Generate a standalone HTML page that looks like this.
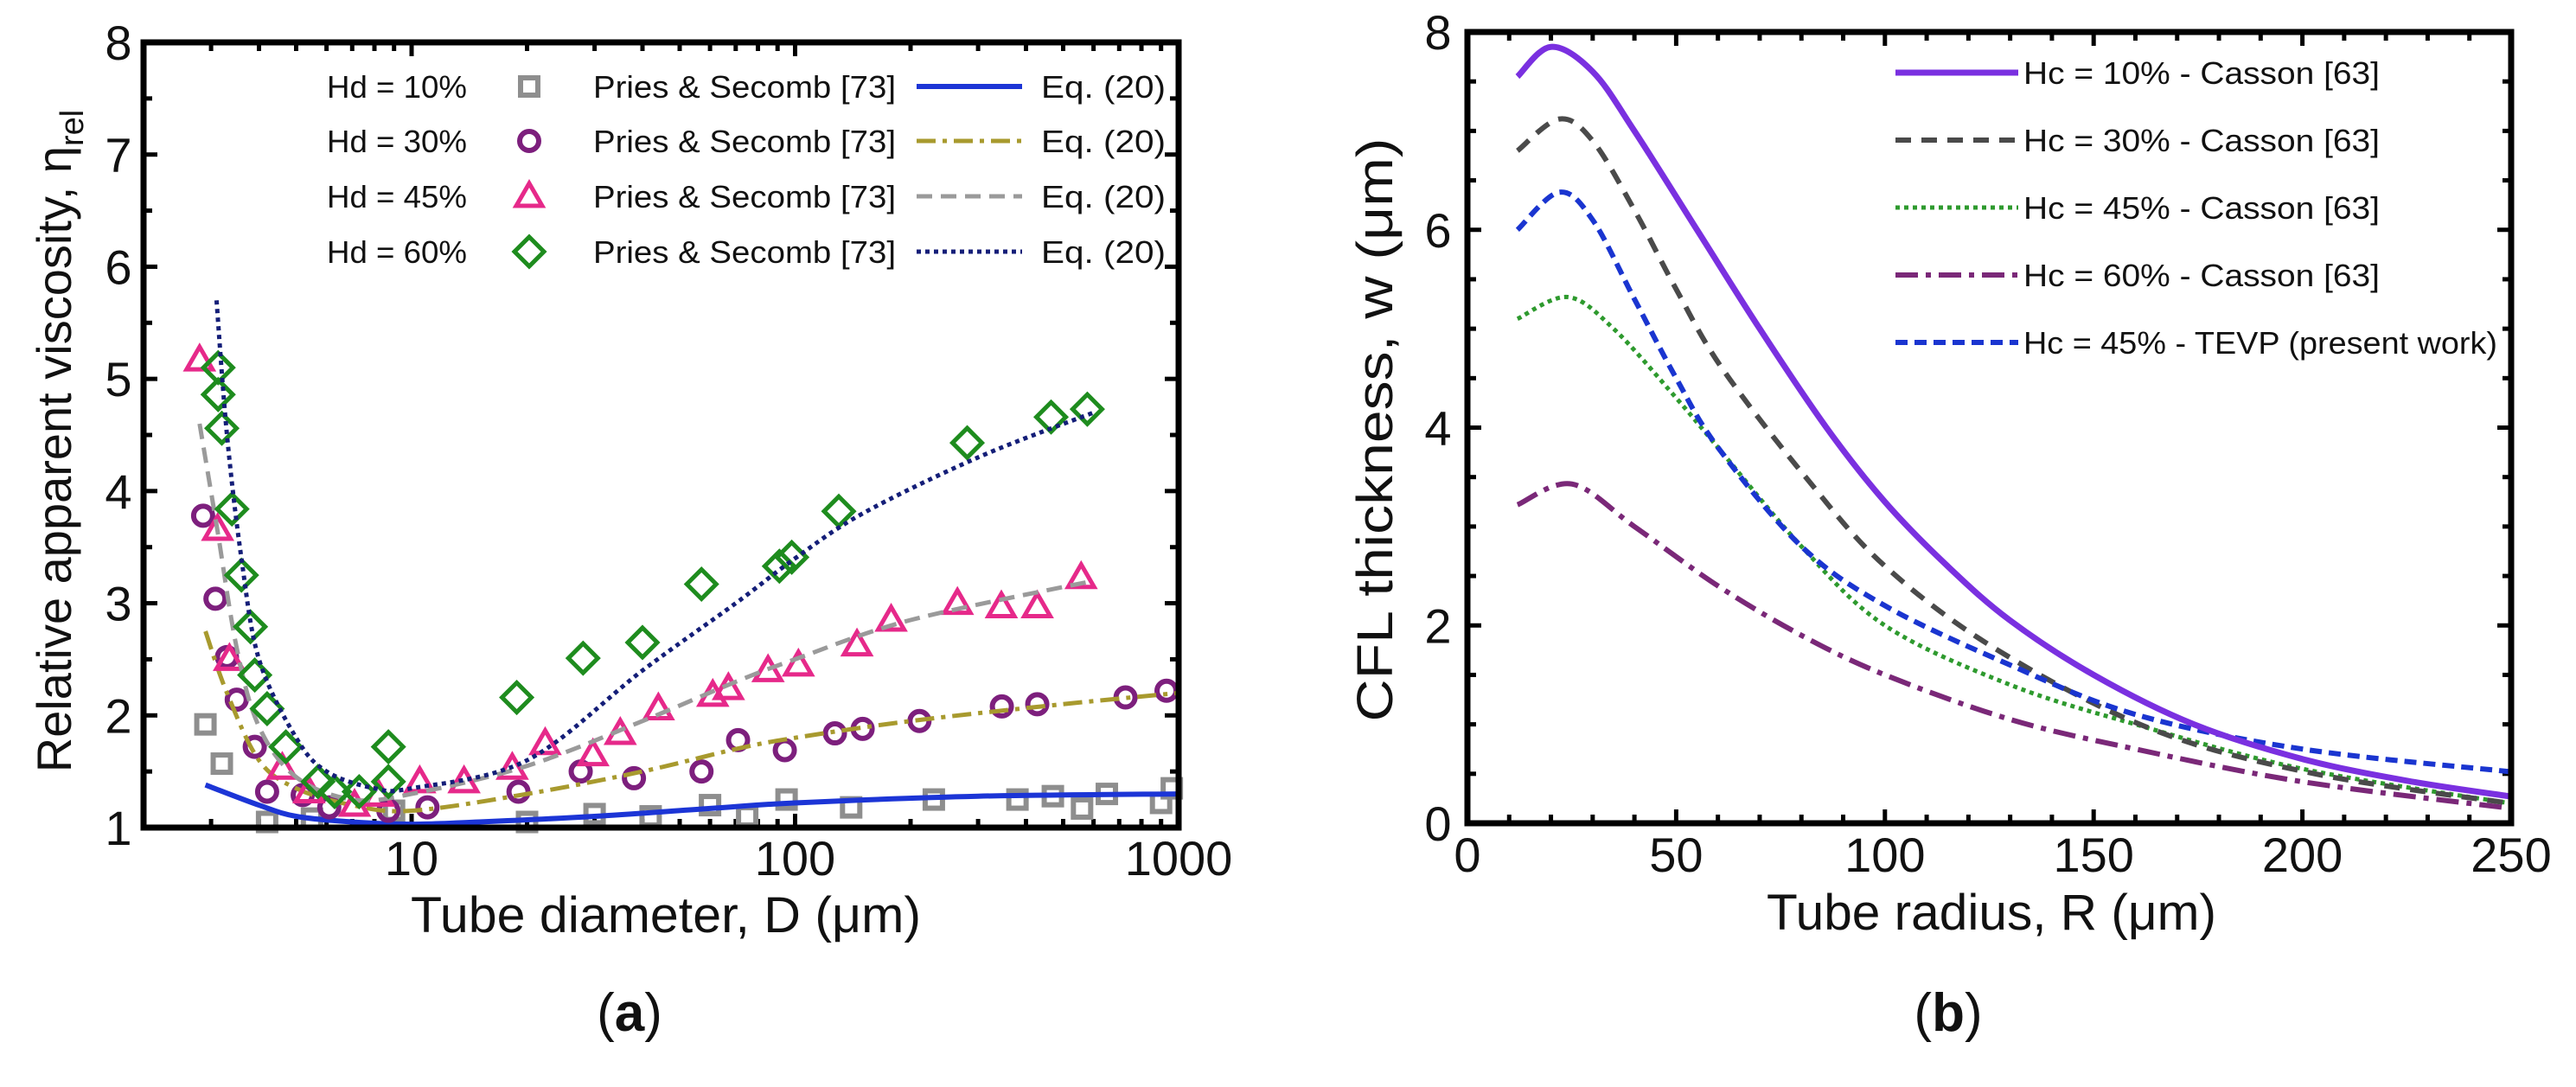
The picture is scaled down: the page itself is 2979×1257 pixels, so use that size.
<!DOCTYPE html>
<html><head><meta charset="utf-8"><style>
html,body{margin:0;padding:0;background:#fff}
svg{display:block}
text{font-family:"Liberation Sans",sans-serif;fill:#111}
</style></head><body>
<svg id="fig" width="2979" height="1257" viewBox="0 0 2979 1257" xmlns="http://www.w3.org/2000/svg">
<g id="pa"></g>
<g id="pb"></g>
</svg>
<script>
// ---------- Panel (a) data ----------
const aSqD=[2.9,3.2,4.2,5.5,9,20,30,42,60,75,95,140,230,380,470,560,650,900,960];
const aSqV=[1.92,1.57,1.05,1.08,1.15,1.05,1.12,1.1,1.2,1.1,1.25,1.18,1.25,1.25,1.28,1.17,1.3,1.22,1.35];
const aCiD=[2.86,3.08,3.3,3.5,3.9,4.2,5.2,6.1,8.7,11,19,27.6,38,57,71,94,127,150,211,346,428,727,930];
const aCiV=[3.78,3.04,2.52,2.14,1.72,1.32,1.29,1.18,1.15,1.18,1.32,1.5,1.44,1.5,1.78,1.69,1.84,1.88,1.95,2.08,2.1,2.16,2.22];
const aTrD=[2.8,3.12,3.35,4.6,5.4,7.1,8.2,10.5,13.7,18.3,22.3,29.7,35,44,61,67,85,102,145,178,265,345,428,557];
const aTrV=[5.17,3.66,2.5,1.53,1.32,1.2,1.29,1.41,1.41,1.53,1.75,1.65,1.84,2.06,2.18,2.24,2.4,2.45,2.63,2.85,3.0,2.97,2.97,3.23];
const aDiD=[3.13,3.13,3.2,3.4,3.6,3.8,3.9,4.2,4.7,5.7,6.3,7.3,8.7,8.7,18.8,28,40,57,91,98,130,281,465,578];
const aDiV=[5.1,4.86,4.56,3.84,3.25,2.79,2.36,2.06,1.72,1.41,1.32,1.32,1.72,1.41,2.16,2.51,2.65,3.17,3.33,3.41,3.82,4.43,4.66,4.73];
const aL10D=[2.9,4,5,7,10,15,30,60,100,300,1000];
const aL10V=[1.38,1.2,1.1,1.05,1.03,1.05,1.1,1.17,1.22,1.28,1.3];
const aL30D=[2.9,3.3,4,5,7,10,20,40,70,100,200,500,1000];
const aL30V=[2.75,2.2,1.6,1.35,1.2,1.15,1.3,1.5,1.7,1.8,1.95,2.1,2.2];
const aL45D=[2.8,3.1,3.5,4,5,7,10,20,40,70,100,200,600];
const aL45V=[4.6,3.7,2.6,1.9,1.45,1.25,1.3,1.55,1.95,2.3,2.5,2.85,3.2];
const aL60D=[3.1,3.3,3.6,4,5,6,8,10,20,40,70,100,150,300,600];
const aL60V=[5.7,4.5,3.4,2.5,1.8,1.5,1.35,1.35,1.6,2.4,3.0,3.4,3.8,4.3,4.7];
const aXTicks=[10,100,1000];
const aYTicks=[1,2,3,4,5,6,7,8];
// ---------- Panel (b) data ----------
const bR10=[12,20,30,40,55,70,86,100,115,130,150,174,200,225,250];
const bV10=[7.55,7.85,7.6,7.0,6.0,5.0,4.0,3.25,2.6,2.05,1.5,1.0,0.65,0.43,0.27];
const bR30=[12,22,30,40,50,61,81,100,127,164,203,250];
const bV30=[6.8,7.12,6.9,6.2,5.4,4.6,3.5,2.6,1.75,0.95,0.5,0.2];
const bR45=[12,24,35,50,60,80,100,130,160,200,250];
const bV45=[5.1,5.32,5.0,4.3,3.8,2.8,2.0,1.4,1.0,0.55,0.2];
const bR60=[12,25,40,60,80,100,130,160,200,250];
const bV60=[3.22,3.43,3.0,2.4,1.9,1.5,1.05,0.75,0.42,0.15];
const bRTE=[12,22,30,40,50,60,80,100,130,160,200,250];
const bVTE=[6.0,6.38,6.1,5.3,4.5,3.8,2.8,2.2,1.6,1.1,0.75,0.52];
const bXTicks=[0,50,100,150,200,250];
const bYTicks=[0,2,4,6,8];

const NS="http://www.w3.org/2000/svg";
function mk(parent,tag,attrs,txt){const e=document.createElementNS(NS,tag);for(const k in attrs)e.setAttribute(k,attrs[k]);if(txt!==undefined)e.textContent=txt;parent.appendChild(e);return e;}
function smooth(pts){let d="M"+pts[0][0].toFixed(1)+","+pts[0][1].toFixed(1);
 for(let i=0;i<pts.length-1;i++){const p0=pts[Math.max(0,i-1)],p1=pts[i],p2=pts[i+1],p3=pts[Math.min(pts.length-1,i+2)];
  const c1=[p1[0]+(p2[0]-p0[0])/6,p1[1]+(p2[1]-p0[1])/6],c2=[p2[0]-(p3[0]-p1[0])/6,p2[1]-(p3[1]-p1[1])/6];
  d+="C"+c1[0].toFixed(1)+","+c1[1].toFixed(1)+" "+c2[0].toFixed(1)+","+c2[1].toFixed(1)+" "+p2[0].toFixed(1)+","+p2[1].toFixed(1);}
 return d;}

// ===== Panel A =====
const A={x0:166,x1:1363,y0:49,y1:957,lmin:Math.log10(2),lmax:3,vmin:1,vmax:8};
const ax=d=>A.x0+(Math.log10(d)-A.lmin)/(A.lmax-A.lmin)*(A.x1-A.x0);
const ay=v=>A.y1-(v-A.vmin)/(A.vmax-A.vmin)*(A.y1-A.y0);
const pa=document.getElementById('pa');
const gA=mk(pa,'g',{});


for(let dec=1;dec<=1000;dec*=10){for(let m=1;m<10;m++){const d=dec*m;if(d<2||d>1000)continue;const x=ax(d);const L=(m===1)?16:10;
 mk(gA,'line',{x1:x,x2:x,y1:A.y1,y2:A.y1-L,stroke:'#000','stroke-width':5});
 mk(gA,'line',{x1:x,x2:x,y1:A.y0,y2:A.y0+L,stroke:'#000','stroke-width':5});}}
for(let v=1;v<=8;v+=0.5){const y=ay(v);const L=(v%1===0)?16:10;
 mk(gA,'line',{x1:A.x0,x2:A.x0+L,y1:y,y2:y,stroke:'#000','stroke-width':5});
 mk(gA,'line',{x1:A.x1,x2:A.x1-L,y1:y,y2:y,stroke:'#000','stroke-width':5});}
aXTicks.forEach(t=>{const e=mk(gA,'text',{x:ax(t),y:1012,'font-size':56,'text-anchor':'middle'},String(t));
 
 });
aYTicks.forEach(t=>{const e=mk(gA,'text',{x:137,y:ay(t)+20,'font-size':56,'text-anchor':'middle'},String(t));
 
 });
const xtA=mk(gA,'text',{x:770,y:1078,'font-size':58,'text-anchor':'middle',textLength:590,lengthAdjust:'spacingAndGlyphs'},'Tube diameter, D (μm)');


const ytA=mk(gA,'text',{x:0,y:0,'font-size':56,'text-anchor':'middle',transform:'translate(82,510) rotate(-90)'},'');
ytA.innerHTML='Relative apparent viscosity, η<tspan font-size="38" dy="14">rel</tspan>';



const sA=mk(pa,'g',{});


function lineA(D,V,col,dash,w,name){const p=mk(sA,'path',{d:smooth(D.map((d,i)=>[ax(d),ay(V[i])])),fill:'none',stroke:col,'stroke-width':w,'stroke-dasharray':dash});
 
 }
function marker(g,type,x,y,col){
 if(type==='sq')return mk(g,'rect',{x:x-10,y:y-10,width:20,height:20,fill:'none',stroke:col,'stroke-width':6});
 if(type==='ci')return mk(g,'circle',{cx:x,cy:y,r:11,fill:'none',stroke:col,'stroke-width':6});
 if(type==='tr')return mk(g,'path',{d:`M${x},${y-15}L${x+15},${y+11}L${x-15},${y+11}Z`,fill:'none',stroke:col,'stroke-width':5});
 return mk(g,'path',{d:`M${x},${y-17}L${x+17},${y}L${x},${y+17}L${x-17},${y}Z`,fill:'none',stroke:col,'stroke-width':5});}
function ptsA(D,V,type,col,name){D.forEach((d,i)=>{const m=marker(sA,type,ax(d),ay(V[i]),col);
 
 });}
ptsA(aSqD,aSqV,'sq','#8e8e8e','point-hd10');
lineA(aL10D,aL10V,'#1c35d6','',6,'line-hd10');
ptsA(aCiD,aCiV,'ci','#7d1f7d','point-hd30');
lineA(aL30D,aL30V,'#a89a2e','22,8,5,8',5,'line-hd30');
ptsA(aTrD,aTrV,'tr','#e6298a','point-hd45');
lineA(aL45D,aL45V,'#9a9a9a','18,10',5,'line-hd45');
ptsA(aDiD,aDiV,'di','#1e8c1e','point-hd60');
lineA(aL60D,aL60V,'#141e78','5,5',5,'line-hd60');
mk(pa,'rect',{x:A.x0,y:A.y0,width:A.x1-A.x0,height:A.y1-A.y0,fill:'none',stroke:'#000','stroke-width':7});

const lgA=mk(pa,'g',{});


const legA=[['Hd = 10%','sq','#8e8e8e','#1c35d6',''],['Hd = 30%','ci','#7d1f7d','#a89a2e','22,8,5,8'],['Hd = 45%','tr','#e6298a','#9a9a9a','18,10'],['Hd = 60%','di','#1e8c1e','#141e78','5,5']];
legA.forEach((r,i)=>{const y=[100,163,227,291][i];
 const e=mk(lgA,'g',{});
 
 
 mk(e,'text',{x:378,y:y+13,'font-size':36,textLength:162,lengthAdjust:'spacingAndGlyphs'},r[0]);
 marker(e,r[1],612,y,r[2]);
 mk(e,'text',{x:686,y:y+13,'font-size':36,textLength:350,lengthAdjust:'spacingAndGlyphs'},'Pries & Secomb [73]');
 mk(e,'line',{x1:1060,x2:1182,y1:y,y2:y,stroke:r[3],'stroke-width':i===0?6:5,'stroke-dasharray':r[4]});
 mk(e,'text',{x:1204,y:y+13,'font-size':36,textLength:144,lengthAdjust:'spacingAndGlyphs'},'Eq. (20)');});
const capA=mk(pa,'text',{x:728,y:1192,'font-size':62,'text-anchor':'middle','font-family':'Liberation Serif, serif'},'');
capA.innerHTML='(<tspan font-weight="bold">a</tspan>)';



// ===== Panel B =====
const B={x0:1697,x1:2904,y0:37,y1:952,xmin:0,xmax:250,vmin:0,vmax:8};
const bx=r=>B.x0+(r-B.xmin)/(B.xmax-B.xmin)*(B.x1-B.x0);
const by=v=>B.y1-(v-B.vmin)/(B.vmax-B.vmin)*(B.y1-B.y0);
const pb=document.getElementById('pb');
const gB=mk(pb,'g',{});


for(let r=0;r<=250;r+=10){const x=bx(r);const L=(r%50===0)?16:10;
 mk(gB,'line',{x1:x,x2:x,y1:B.y1,y2:B.y1-L,stroke:'#000','stroke-width':5});
 mk(gB,'line',{x1:x,x2:x,y1:B.y0,y2:B.y0+L,stroke:'#000','stroke-width':5});}
for(let v=0;v<=8;v+=0.5){const y=by(v);const L=(v%2===0)?16:10;
 mk(gB,'line',{x1:B.x0,x2:B.x0+L,y1:y,y2:y,stroke:'#000','stroke-width':5});
 mk(gB,'line',{x1:B.x1,x2:B.x1-L,y1:y,y2:y,stroke:'#000','stroke-width':5});}
bXTicks.forEach(t=>{const e=mk(gB,'text',{x:bx(t),y:1008,'font-size':56,'text-anchor':'middle'},String(t));
 
 });
bYTicks.forEach(t=>{const e=mk(gB,'text',{x:1663,y:by(t)+20,'font-size':56,'text-anchor':'middle'},String(t));
 
 });
const xtB=mk(gB,'text',{x:2303,y:1075,'font-size':58,'text-anchor':'middle',textLength:520,lengthAdjust:'spacingAndGlyphs'},'Tube radius, R (μm)');


const ytB=mk(gB,'text',{x:0,y:0,'font-size':58,'text-anchor':'middle',textLength:675,lengthAdjust:'spacingAndGlyphs',transform:'translate(1610,497) rotate(-90)'},'CFL thickness, w (μm)');



const sB=mk(pb,'g',{});


function lineB(R,V,col,dash,w,name){const p=mk(sB,'path',{d:smooth(R.map((r,i)=>[bx(r),by(V[i])])),fill:'none',stroke:col,'stroke-width':w,'stroke-dasharray':dash});
 
 }
const legB=[['Hc = 10% - Casson [63]','#7a30e0','',7],['Hc = 30% - Casson [63]','#4a4a4a','18,12',6],['Hc = 45% - Casson [63]','#2e9a2e','5,5',5],['Hc = 60% - Casson [63]','#7a2878','26,9,6,9',6],['Hc = 45% - TEVP (present work)','#1a35d0','14,8',6]];
lineB(bR60,bV60,legB[3][1],legB[3][2],legB[3][3],'line-hc60-casson');
lineB(bR45,bV45,legB[2][1],legB[2][2],legB[2][3],'line-hc45-casson');
lineB(bR30,bV30,legB[1][1],legB[1][2],legB[1][3],'line-hc30-casson');
lineB(bRTE,bVTE,legB[4][1],legB[4][2],legB[4][3],'line-hc45-tevp');
lineB(bR10,bV10,legB[0][1],legB[0][2],legB[0][3],'line-hc10-casson');
mk(pb,'rect',{x:B.x0,y:B.y0,width:B.x1-B.x0,height:B.y1-B.y0,fill:'none',stroke:'#000','stroke-width':7});
const lgB=mk(pb,'g',{});


legB.forEach((r,i)=>{const y=[84,162,240,318,396][i];
 const e=mk(lgB,'g',{});
 
 
 mk(e,'line',{x1:2192,x2:2334,y1:y,y2:y,stroke:r[1],'stroke-width':r[3],'stroke-dasharray':r[2]});
 mk(e,'text',{x:2340,y:y+13,'font-size':36,textLength:i===4?548:412,lengthAdjust:'spacingAndGlyphs'},r[0]);});
const capB=mk(pb,'text',{x:2253,y:1192,'font-size':62,'text-anchor':'middle','font-family':'Liberation Serif, serif'},'');
capB.innerHTML='(<tspan font-weight="bold">b</tspan>)';


</script>
</body></html>
